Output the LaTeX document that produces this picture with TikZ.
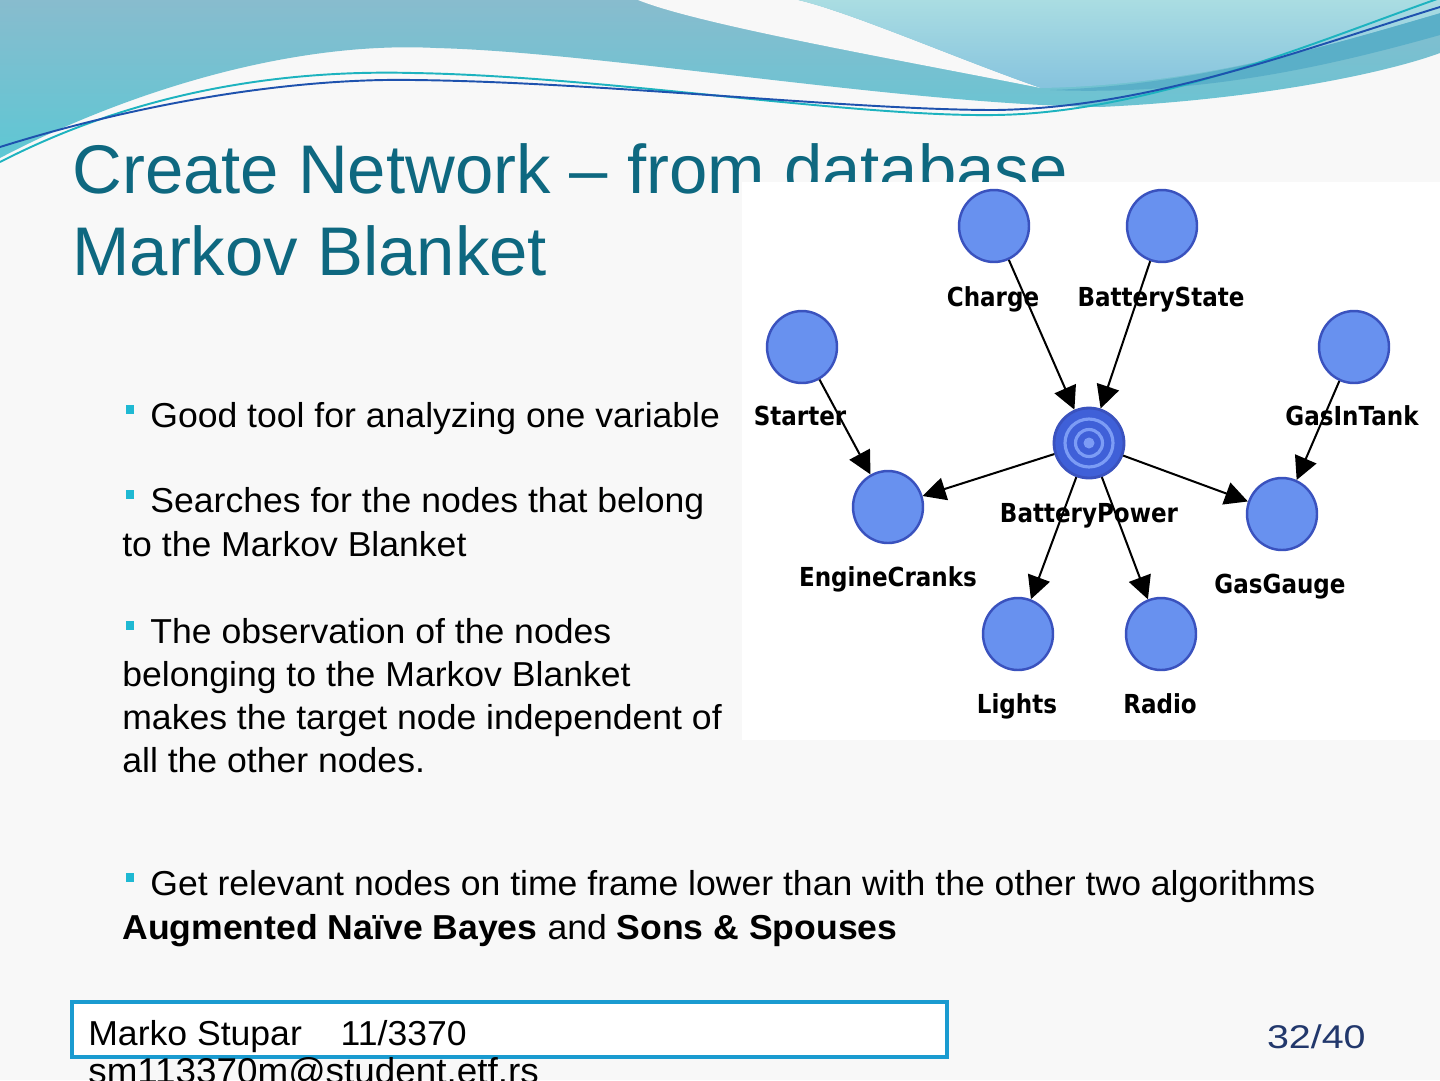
\documentclass[tikz,border=0pt]{standalone}
\usepackage{fontspec}
\setmainfont{Liberation Sans}
\newfontfamily\bodyfont{Liberation Sans}[FakeStretch=1.028]
\newfontfamily\lblfont{DejaVu Sans}[FakeStretch=0.88]
\usetikzlibrary{arrows.meta,shapes.geometric}
\definecolor{bgc}{HTML}{F8F8F8}
\definecolor{titlec}{HTML}{0E6880}
\definecolor{tealA}{HTML}{88BCCE}
\definecolor{tealB}{HTML}{5EC7D4}
\definecolor{lightA}{HTML}{AADDE2}
\definecolor{lightB}{HTML}{86C3DE}
\definecolor{bandc}{HTML}{5AAFC8}
\definecolor{lineteal}{HTML}{1DB3BF}
\definecolor{lineblue}{HTML}{1E52AE}
\definecolor{bulletc}{HTML}{1FB9D3}
\definecolor{nodefill}{HTML}{6891EF}
\definecolor{nodedraw}{HTML}{3A52BE}
\definecolor{bpfill}{HTML}{3F60D8}
\definecolor{ringc}{HTML}{7C9CF5}
\definecolor{footc}{HTML}{1A9BD0}
\definecolor{navyc}{HTML}{22386C}
\tikzset{
  bn/.style={ellipse, draw=nodedraw, fill=nodefill, line width=1.4pt,
             minimum width=1.4cm, minimum height=1.44cm, inner sep=0pt},
  lbl/.style={anchor=base, inner sep=0pt, font=\lblfont\bfseries\fontsize{14.9pt}{16pt}\selectfont},
  edge/.style={draw=black, line width=1.15pt, -{Triangle[length=0.46cm,width=0.46cm]}},
  body/.style={anchor=base west, inner sep=0pt, font=\bodyfont\fontsize{19.7pt}{23pt}\selectfont, text=black},
  bul/.style={rectangle, fill=bulletc, inner sep=0pt, minimum width=0.17cm, minimum height=0.18cm},
  ttl/.style={anchor=base west, inner sep=0pt, text=titlec, font=\fontsize{39.2pt}{46pt}\selectfont}
}
\begin{document}
\begin{tikzpicture}[x=0.02cm,y=-0.02cm]
\useasboundingbox (0,0) rectangle (1440,1080);
\clip (0,0) rectangle (1440,1080);
\fill[bgc] (0,0) rectangle (1440,1080);

% header waves
\shade[top color=tealA, bottom color=tealB]
  (0,0) -- (1440,0) -- (1440,53)
  .. controls (1380,75) and (1250,100) .. (1100,107)
  .. controls (900,104) and (600,52) .. (436,48)
  .. controls (280,40) and (110,100) .. (0,158) -- cycle;
\fill[bandc] (1050,90) .. controls (1200,85) and (1330,45) .. (1440,13)
  -- (1440,35) .. controls (1330,66) and (1200,96) .. (1050,90) -- cycle;
\fill[bgc] (638,0) -- (798,0) .. controls (850,12) and (960,60) .. (1041,88)
  .. controls (900,60) and (700,25) .. (638,0) -- cycle;
\shade[top color=lightA, bottom color=lightB]
  (798,0) -- (1440,0) -- (1440,13)
  .. controls (1330,45) and (1200,85) .. (1041,88)
  .. controls (960,60) and (850,12) .. (798,0) -- cycle;
\draw[lineteal, line width=1.1pt] (0,162) .. controls (150,85) and (300,70) .. (413,73)
  .. controls (600,76) and (850,117) .. (995,115)
  .. controls (1150,113) and (1320,40) .. (1440,-2);
\draw[lineblue, line width=1.1pt] (0,147) .. controls (150,100) and (300,78) .. (413,80)
  .. controls (600,82) and (850,110) .. (995,110)
  .. controls (1150,108) and (1300,50) .. (1440,7);

% title
\node[ttl] (t1) at (72,193) {Create Network – from database};
\node[ttl] (t2) at (72,275) {Markov Blanket};

% picture background
\fill[white] (742,182) rectangle (1440,740);

% network nodes
\node[bn] (Charge) at (994,226) {};
\node[bn] (BatteryState) at (1162,226) {};
\node[bn] (Starter) at (802,347) {};
\node[bn] (GasInTank) at (1354,347) {};
\node[bn] (EngineCranks) at (888,507) {};
\node[bn] (GasGauge) at (1282,514) {};
\node[bn] (Lights) at (1018,634) {};
\node[bn] (Radio) at (1161,634) {};
\node[circle, draw=nodedraw, fill=bpfill, line width=1.6pt, minimum size=1.4cm, inner sep=0pt] (BP) at (1089,443) {};
\draw[ringc, line width=1.8pt] (BP.center) circle[radius=0.48cm];
\draw[ringc, line width=1.8pt] (BP.center) circle[radius=0.27cm];
\fill[ringc] (BP.center) circle[radius=0.11cm];

% labels
\node[lbl] (lCharge) at (993,306) {Charge};
\node[lbl] (lBatteryState) at (1161,306) {BatteryState};
\node[lbl] (lStarter) at (800,425) {Starter};
\node[lbl] (lGasInTank) at (1352,425) {GasInTank};
\node[lbl] (lBP) at (1089,522) {BatteryPower};
\node[lbl] (lEngineCranks) at (888,586) {EngineCranks};
\node[lbl] (lGasGauge) at (1280,593) {GasGauge};
\node[lbl] (lLights) at (1017,713) {Lights};
\node[lbl] (lRadio) at (1160,713) {Radio};

% edges
\draw[edge] (Charge) -- (BP);
\draw[edge] (BatteryState) -- (BP);
\draw[edge] (Starter) -- (EngineCranks);
\draw[edge] (GasInTank) -- (GasGauge);
\draw[edge] (BP) -- (EngineCranks);
\draw[edge] (BP) -- (GasGauge);
\draw[edge] (BP) -- (Lights);
\draw[edge] (BP) -- (Radio);

% body text
\node[bul] (m1) at (130,409) {};
\node[body] (b1) at (150,427) {Good tool for analyzing one variable};
\node[bul] (m2) at (130,494) {};
\node[body] (b2a) at (150,512) {Searches for the nodes that belong};
\node[body] (b2b) at (122,556) {to the Markov Blanket};
\node[bul] (m3) at (130,625) {};
\node[body] (b3a) at (150,643) {The observation of the nodes};
\node[body] (b3b) at (122,686) {belonging to the Markov Blanket};
\node[body] (b3c) at (122,729) {makes the target node independent of};
\node[body] (b3d) at (122,772) {all the other nodes.};
\node[bul] (m4) at (130,877) {};
\node[body] (b4a) at (150,895) {Get relevant nodes on time frame lower than with the other two algorithms};
\node[body] (b4b) at (122,939) {\textbf{Augmented Naïve Bayes} and \textbf{Sons \& Spouses}};

% footer
\draw[footc, line width=2.3pt, fill=white] (72,1002) rectangle (947,1057);
\node[body] (f1) at (88,1045) {Marko Stupar};
\node[body, anchor=base east] (f2) at (467,1045) {11/3370};
\node[body, font=\bodyfont\fontsize{20.4pt}{23pt}\selectfont] (f3) at (88,1083) {sm113370m@student.etf.rs};
\node[anchor=base east, inner sep=0pt, text=navyc, font=\fontsize{18.7pt}{22pt}\selectfont] (pg) at (1366,1048) {\scalebox{1.2}[1]{32/40}};
\end{tikzpicture}
\end{document}
